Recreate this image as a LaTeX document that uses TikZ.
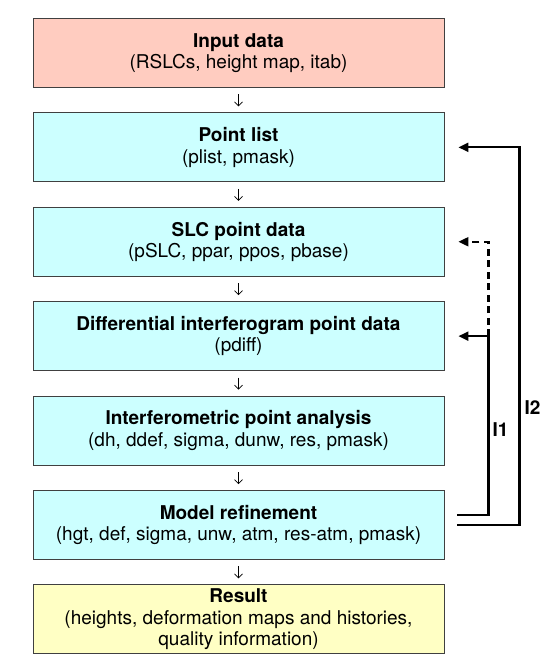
\documentclass[tikz,border=0pt]{standalone}
\usepackage{fontspec}
\setmainfont{TeX Gyre Heros}
\usetikzlibrary{positioning}
\usetikzlibrary{arrows.meta}
\definecolor{inputred}{RGB}{255,204,192}
\definecolor{stagecyan}{RGB}{204,255,255}
\definecolor{resultyellow}{RGB}{255,255,196}
\newcommand{\boxtext}[2]{\textbf{#1}\\#2}

\begin{document}
\begin{tikzpicture}[x=1pt,y=1pt,node distance=24.5pt,
    every node/.style={font=\fontsize{19}{21.5}\selectfont},
    stagebox/.style={draw=black!75,line width=0.9pt,fill=stagecyan,
      minimum width=411pt,minimum height=69pt,inner sep=0pt,align=center},
    flow/.style={-{Straight Barb[length=4pt,width=8pt]},line width=0.7pt,shorten <=6.5pt,shorten >=6pt},
    loopline/.style={-{Triangle[length=10pt,width=9pt]},line width=2.2pt}]
    \useasboundingbox (0,0) rectangle (545,-658);
		\node[stagebox,fill=inputred,anchor=north] (input) at (238.5,-18) {\boxtext{Input data}{(RSLCs, height map, itab)}};
		\node[stagebox,below=of input] (plist) {\boxtext{Point list}{(plist, pmask)}};
		\draw[flow] (input) -- (plist);
		\node[stagebox,below=of plist] (slc) {\boxtext{SLC point data}{(pSLC, ppar, ppos, pbase)}};
		\draw[flow] (plist) -- (slc);
		\node[stagebox,below=of slc] (pdiff) {\boxtext{Differential interferogram point data}{(pdiff)}};
		\draw[flow] (slc) -- (pdiff);
		\node[stagebox,below=of pdiff] (analysis) {\boxtext{Interferometric point analysis}{(dh, ddef, sigma, dunw, res, pmask)}};
		\draw[flow] (pdiff) -- (analysis);
		\node[stagebox,below=of analysis] (model) {\boxtext{Model refinement}{(hgt, def, sigma, unw, atm, res-atm, pmask)}};
		\draw[flow] (analysis) -- (model);
		\node[stagebox,fill=resultyellow,below=of model] (result) {\boxtext{Result}{(heights, deformation maps and histories,\\quality information)}};
		\draw[flow] (model) -- (result);

       %% iteration I1
       \coordinate (i1bot) at ([xshift=44pt,yshift=10pt]model.east);
       \draw[loopline] ([xshift=13pt,yshift=10pt]model.east) -- (i1bot)
             |- ([xshift=14pt]pdiff.east);
       \draw[loopline,dash pattern=on 7pt off 4.5pt]
             (i1bot |- pdiff.east) |- ([xshift=14pt]slc.east);
       \node (l1) at ([xshift=12pt,yshift=85pt]i1bot) {\textbf{I1}};
       %% iteration I2
       \coordinate (i2bot) at ([xshift=75pt]model.east);
       \draw[loopline] ([xshift=13pt]model.east) -- (i2bot)
             |- ([xshift=14pt]plist.east);
       \node (l2) at ([xshift=13pt,yshift=117pt]i2bot) {\textbf{I2}};
	\end{tikzpicture}
\end{document}
